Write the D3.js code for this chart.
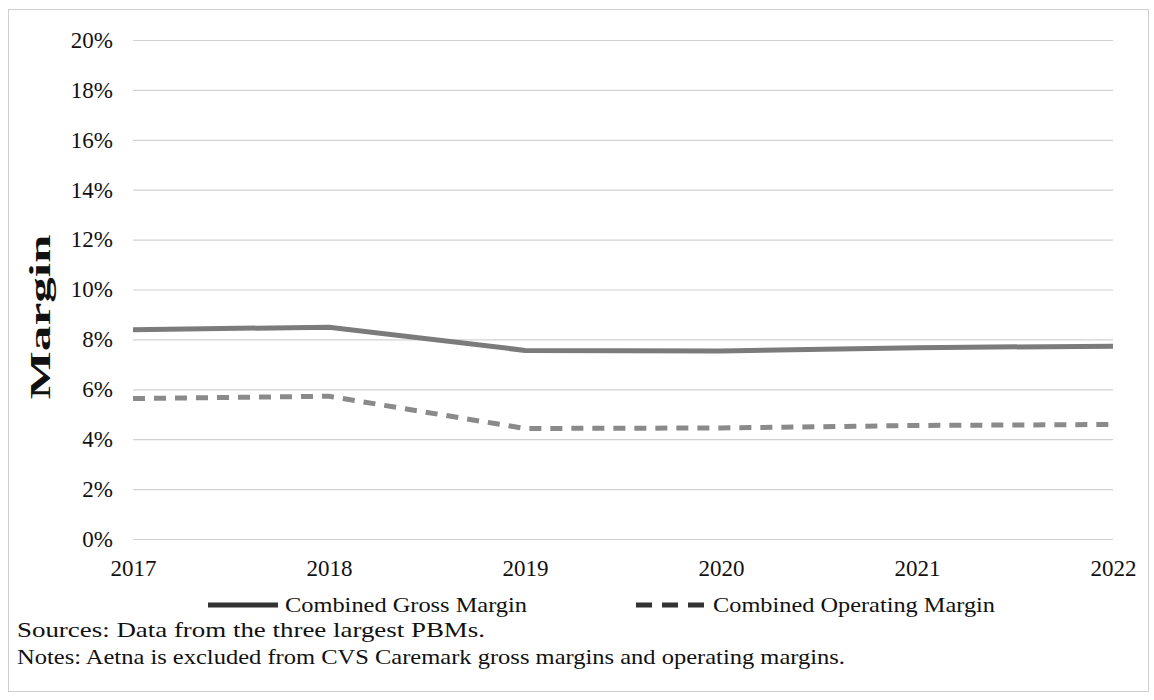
<!DOCTYPE html>
<html><head><meta charset="utf-8">
<script src="https://cdn.jsdelivr.net/npm/d3@7/dist/d3.min.js"></script>
<style>body{margin:0;background:#fff;}svg{display:block;}</style>
</head><body>
<svg id="c" width="1154" height="700"></svg>
<script>
const years = [2017, 2018, 2019, 2020, 2021, 2022];
const grossMargin = [8.39, 8.49, 7.56, 7.54, 7.67, 7.73];
const operatingMargin = [5.63, 5.72, 4.43, 4.45, 4.55, 4.59];
const yTicks = [0, 2, 4, 6, 8, 10, 12, 14, 16, 18, 20];
const seriesNames = ["Combined Gross Margin", "Combined Operating Margin"];
const yAxisTitle = "Margin";
const notes = ["Sources: Data from the three largest PBMs.",
               "Notes: Aetna is excluded from CVS Caremark gross margins and operating margins."];

const svg = d3.select("#c");
const font = "'Liberation Serif','Times New Roman',serif";

svg.append("rect").attr("x", 8.5).attr("y", 9.5).attr("width", 1140).attr("height", 682)
  .attr("fill", "#fff").attr("stroke", "#cfcfcf").attr("stroke-width", 1);

const x = d3.scaleLinear().domain([2017, 2022]).range([133, 1113]);
const y = d3.scaleLinear().domain([0, 20]).range([539, 40]);

const yAxis = d3.axisLeft(y).tickValues(yTicks).tickFormat(d => d + "%")
  .tickSize(-(1113 - 133)).tickPadding(20);
const gy = svg.append("g").attr("transform", "translate(133,0)").call(yAxis);
gy.select(".domain").remove();
gy.selectAll(".tick line").attr("stroke", "#d2d2d2").attr("stroke-width", 1.2);
gy.selectAll(".tick text").attr("font-family", font).attr("font-size", 23).attr("fill", "#111");

const xAxis = d3.axisBottom(x).tickValues(years).tickFormat(d3.format("d")).tickSize(0).tickPadding(21);
const gx = svg.append("g").attr("transform", "translate(0,539)").call(xAxis);
gx.select(".domain").remove();
gx.selectAll(".tick text").attr("font-family", font).attr("font-size", 23).attr("fill", "#111");

svg.append("text").attr("transform", "translate(50,317) rotate(-90)")
  .attr("text-anchor", "middle").attr("font-family", font).attr("font-weight", "bold")
  .attr("font-size", 30).attr("textLength", 165).attr("lengthAdjust", "spacingAndGlyphs")
  .attr("fill", "#111").text(yAxisTitle);

const line = d3.line().x(d => x(d[0])).y(d => y(d[1]));
svg.append("path").datum(years.map((yr, i) => [yr, grossMargin[i]]))
  .attr("d", line).attr("fill", "none").attr("stroke", "#7b7b7b").attr("stroke-width", 5);
svg.append("path").datum(years.map((yr, i) => [yr, operatingMargin[i]]))
  .attr("d", line).attr("fill", "none").attr("stroke", "#8a8a8a").attr("stroke-width", 5)
  .attr("stroke-dasharray", "12,9");

const leg = svg.append("g");
leg.append("line").attr("x1", 208).attr("x2", 278).attr("y1", 605).attr("y2", 605)
  .attr("stroke", "#333").attr("stroke-width", 5);
leg.append("text").attr("x", 285).attr("y", 612).attr("font-family", font).attr("font-size", 22)
  .attr("textLength", 242).attr("lengthAdjust", "spacingAndGlyphs")
  .attr("fill", "#111").text(seriesNames[0]);
leg.append("line").attr("x1", 636).attr("x2", 706).attr("y1", 605).attr("y2", 605)
  .attr("stroke", "#333").attr("stroke-width", 5).attr("stroke-dasharray", "16,10");
leg.append("text").attr("x", 713).attr("y", 612).attr("font-family", font).attr("font-size", 22)
  .attr("textLength", 282).attr("lengthAdjust", "spacingAndGlyphs")
  .attr("fill", "#111").text(seriesNames[1]);

const noteLens = [468, 828];
svg.selectAll(".note").data(notes).enter().append("text").attr("class", "note")
  .attr("x", 17).attr("y", (d, i) => 637 + i * 27)
  .attr("textLength", (d, i) => noteLens[i]).attr("lengthAdjust", "spacingAndGlyphs")
  .attr("font-family", font).attr("font-size", 21).attr("fill", "#111").text(d => d);
</script>
</body></html>
